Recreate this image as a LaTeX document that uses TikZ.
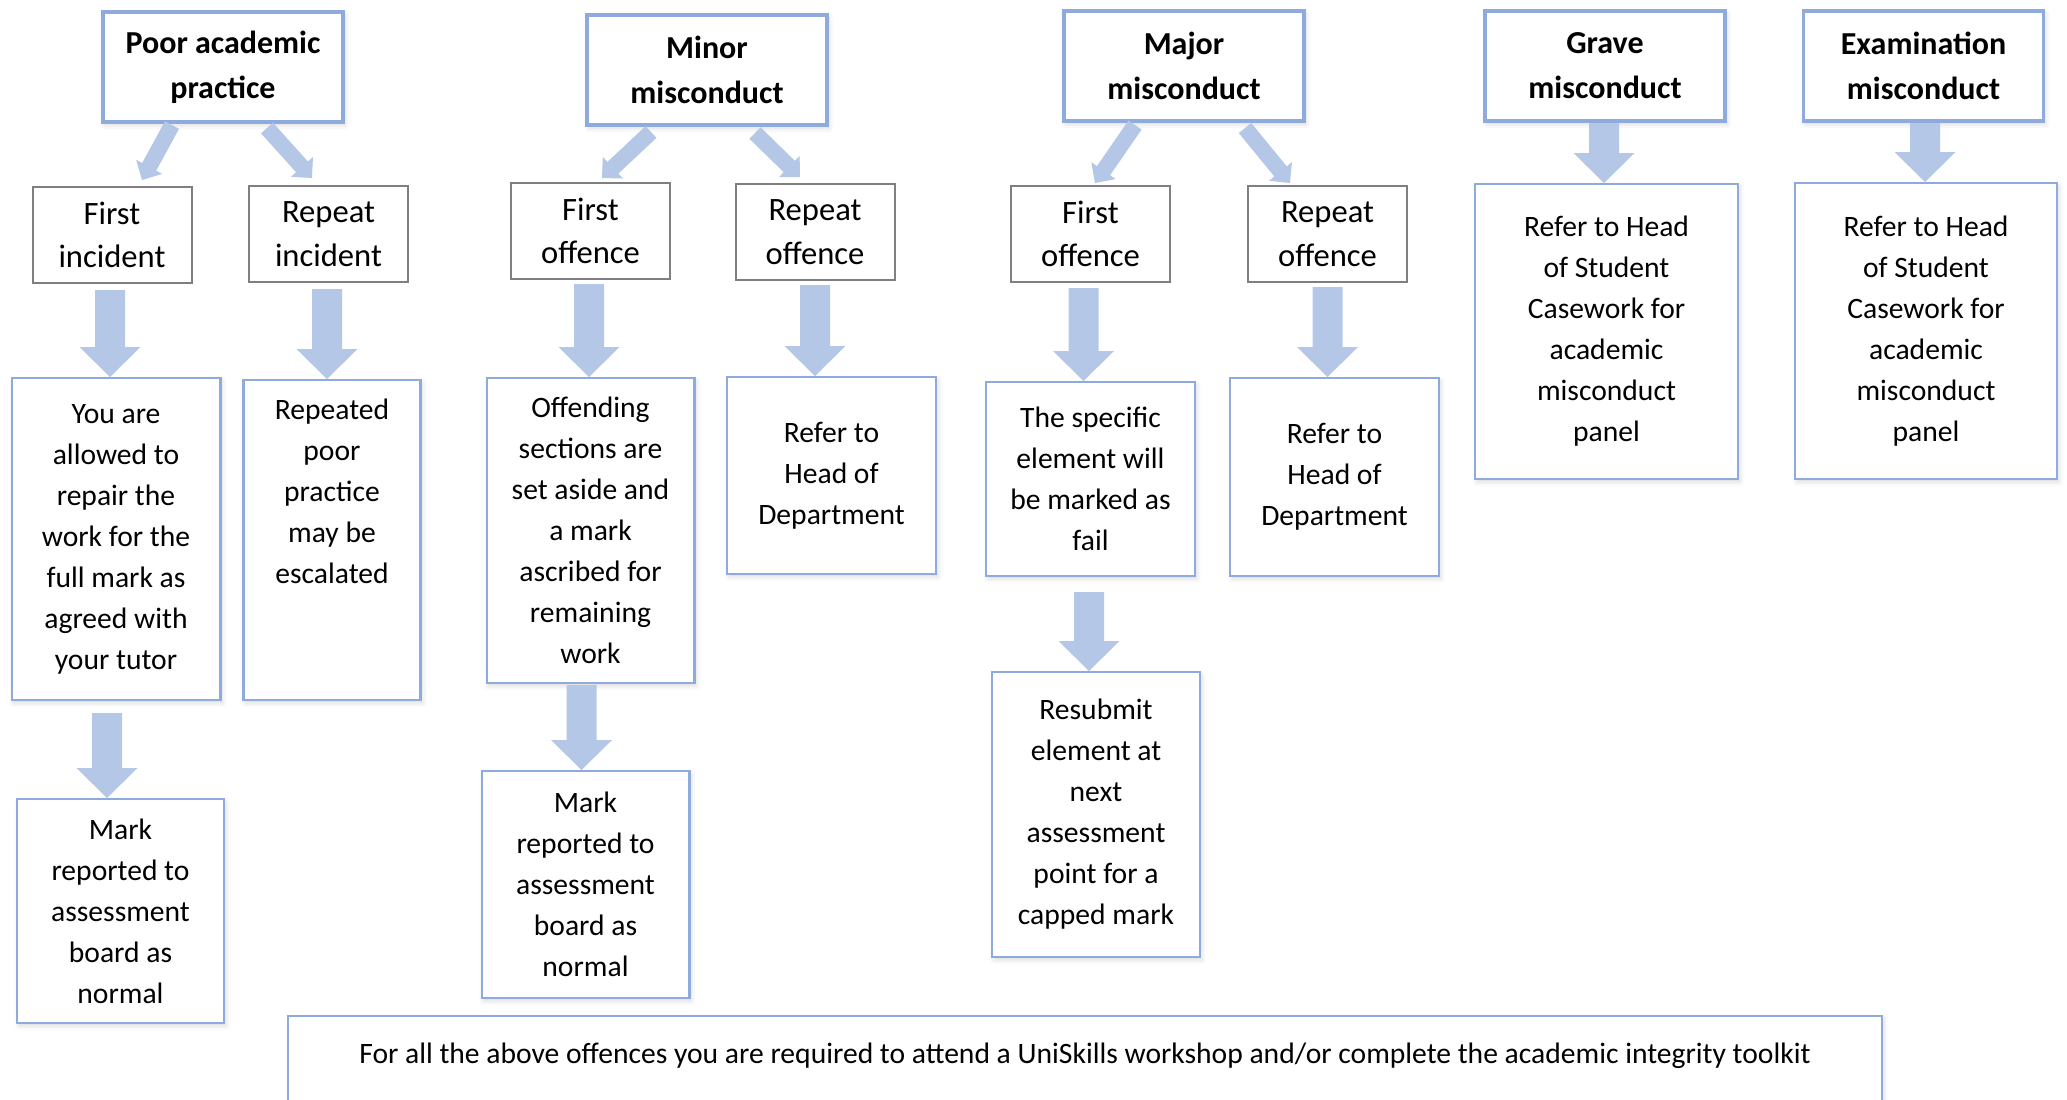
\documentclass[tikz,border=0pt]{standalone}
\usepackage{fontspec}
\setmainfont{Carlito}
\usepackage{tikz}
\usepackage{xcolor}
\usetikzlibrary{positioning, calc, shadows.blur}

\definecolor{boxblue}{HTML}{8FAADC}
\definecolor{arrowblue}{HTML}{B4C7E7}
\definecolor{boxgrey}{HTML}{7F7F7F}

\begin{document}
\begin{tikzpicture}
[x=0.5pt, y=-0.5pt,
head-box/.style={rectangle, draw=boxblue, line width=1.8pt, fill=white, align=center, minimum width=120pt, minimum height=55.2pt, font=\fontsize{16}{22.5}\selectfont\bfseries, soft-shadow},
step-box/.style={rectangle, draw=boxgrey, line width=1pt, fill=white, align=center, minimum width=79.5pt, minimum height=48pt, font=\fontsize{16.3}{21.75}\selectfont},
out-box/.style={rectangle, draw=boxblue, line width=1.2pt, fill=white, align=center, minimum width=104.3pt, font=\fontsize{14.8}{20.5}\selectfont, soft-shadow},
text-a/.style={inner sep=0pt, align=center, font=\fontsize{14.8}{20.5}\selectfont},
soft-shadow/.style={blur shadow={shadow xshift=1pt, shadow yshift=-1.5pt, shadow opacity=15, shadow blur radius=2.5pt}},
block-arrow/.style n args={3}{fill=arrowblue, to path={
  ($(\tikztostart)!#1!90:(\tikztotarget)$)
  -- ($(\tikztotarget)!#3!(\tikztostart)!#1!-90:(\tikztostart)$)
  -- ($(\tikztotarget)!#3!(\tikztostart)!#2!-90:(\tikztostart)$)
  -- (\tikztotarget)
  -- ($(\tikztotarget)!#3!(\tikztostart)!#2!90:(\tikztostart)$)
  -- ($(\tikztotarget)!#3!(\tikztostart)!#1!90:(\tikztostart)$)
  -- ($(\tikztostart)!#1!-90:(\tikztotarget)$) -- cycle}},
fat-arrow/.style={block-arrow={7.5pt}{15.25pt}{15pt}},
thin-arrow/.style={block-arrow={4pt}{7.4pt}{7.5pt}},]
\useasboundingbox (0,0) rectangle (2067,1099);
\node (pap)   [head-box] at (223,67)    {Poor academic\\practice};
\node (minor) [head-box] at (707,70)    {Minor\\misconduct};
\node (major) [head-box] at (1184,66)   {Major\\misconduct};
\node (grave) [head-box] at (1605,66)   {Grave\\misconduct};
\node (exam)  [head-box] at (1923.5,66) {Examination\\misconduct};
\node (pap-first)    [step-box, below = 31pt of pap, xshift=-55.5pt]   {First\\incident};
\node (pap-repeat)   [step-box, below = 30.5pt of pap, xshift=52.75pt] {Repeat\\incident};
\node (minor-first)  [step-box, below = 27.5pt of minor, xshift=-58.25pt] {First\\offence};
\node (minor-repeat) [step-box, below = 28pt of minor, xshift=54pt]    {Repeat\\offence};
\node (major-first)  [step-box, below = 31pt of major, xshift=-46.75pt] {First\\offence};
\node (major-repeat) [step-box, below = 31pt of major, xshift=71.75pt]  {Repeat\\offence};
\node (pap-first-out)   [out-box, minimum height=160.8pt, below = 46.5pt of pap-first, xshift=2pt] {You are\\allowed to\\repair the\\work for the\\full mark as\\agreed with\\your tutor};
\node (pap-rep-out)     [out-box, minimum width=88.5pt, minimum height=159.8pt, below = 48pt of pap-repeat, xshift=1.75pt] {};
\node (pap-rep-txt)     [text-a, below = 10pt of pap-rep-out.north] {Repeated\\poor\\practice\\may be\\escalated};
\node (minor-first-out) [out-box, minimum width=103.8pt, minimum height=152.3pt, below = 48.5pt of minor-first] {Offending\\sections are\\set aside and\\a mark\\ascribed for\\remaining\\work};
\node (minor-rep-out)   [out-box, minimum height=98.3pt, below = 47.5pt of minor-repeat, xshift=8.25pt] {Refer to\\Head of\\Department};
\node (major-first-out) [out-box, minimum height=96.8pt, below = 49pt of major-first] {The specific\\element will\\be marked as\\fail};
\node (major-rep-out)   [out-box, minimum height=98.8pt, below = 47pt of major-repeat, xshift=3.5pt] {Refer to\\Head of\\Department};
\node (grave-out) [out-box, minimum width=131.3pt, minimum height=147.3pt, below = 30pt of grave, xshift=0.75pt] {Refer to Head\\of Student\\Casework for\\academic\\misconduct\\panel};
\node (exam-out)  [out-box, minimum width=130.8pt, minimum height=147.8pt, below = 29.5pt of exam, xshift=1.25pt] {Refer to Head\\of Student\\Casework for\\academic\\misconduct\\panel};
\node (pap-mark)       [out-box, minimum width=103.3pt, minimum height=111.8pt, below = 48.5pt of pap-first-out, xshift=2.25pt] {Mark\\reported to\\assessment\\board as\\normal};
\node (minor-mark)     [out-box, minimum width=103.8pt, minimum height=113.3pt, below = 43pt of minor-first-out, xshift=-2.5pt] {Mark\\reported to\\assessment\\board as\\normal};
\node (major-resubmit) [out-box, minimum width=103.8pt, minimum height=142.3pt, below = 47pt of major-first-out, xshift=2.75pt] {Resubmit\\element at\\next\\assessment\\point for a\\capped mark};
\node (footer) [out-box, anchor=base, minimum width=796.8pt, inner ysep=0pt, text height=23.5pt, text depth=33.5pt] at (1085,1063) {For all the above offences you are required to attend a UniSkills workshop and/or complete the academic integrity toolkit};
\path [thin-arrow] ($(pap.south)+(-25.5pt,-0.5pt)$) to ($(pap-first.north)+(15pt,3pt)$);
\path [thin-arrow] ($(pap.south)+(22pt,-2pt)$) to ($(pap-repeat.north)+(-8.25pt,3.5pt)$);
\path [thin-arrow] ($(minor.south)+(-28pt,-2.5pt)$) to ($(minor-first.north)+(5.75pt,2pt)$);
\path [thin-arrow] ($(minor.south)+(24pt,-3pt)$) to ($(minor-repeat.north)+(-7.5pt,3pt)$);
\path [thin-arrow] ($(major.south)+(-24.5pt,-1pt)$) to ($(major-first.north)+(2.25pt,1pt)$);
\path [thin-arrow] ($(major.south)+(30.5pt,-2.5pt)$) to ($(major-repeat.north)+(-18.75pt,1pt)$);
\path [fat-arrow] ($(pap-first.south)+(-1pt,-3pt)$) to ($(pap-first.south |- pap-first-out.north)+(-1pt,0pt)$);
\path [fat-arrow] ($(pap-repeat.south)+(-0.75pt,-3pt)$) to ($(pap-repeat.south |- pap-rep-out.north)+(-0.75pt,0pt)$);
\path [fat-arrow] ($(minor-first.south)+(-0.75pt,-2pt)$) to ($(minor-first.south |- minor-first-out.north)+(-0.75pt,0pt)$);
\path [fat-arrow] ($(minor-repeat.south)+(0pt,-2pt)$) to (minor-repeat.south |- minor-rep-out.north);
\path [fat-arrow] ($(major-first.south)+(-3.5pt,-2.5pt)$) to ($(major-first.south |- major-first-out.north)+(-3.5pt,0pt)$);
\path [fat-arrow] ($(major-repeat.south)+(0pt,-2pt)$) to (major-repeat.south |- major-rep-out.north);
\path [fat-arrow] ($(grave.south)+(-0.5pt,0pt)$) to ($(grave.south |- grave-out.north)+(-0.5pt,0pt)$);
\path [fat-arrow] ($(exam.south)+(0.75pt,0pt)$) to ($(exam.south |- exam-out.north)+(0.75pt,0pt)$);
\path [fat-arrow] ($(pap-first-out.south)+(-4.5pt,-6pt)$) to ($(pap-first-out.south |- pap-mark.north)+(-4.5pt,0pt)$);
\path [fat-arrow] ($(minor-first-out.south)+(-4.5pt,-0.5pt)$) to ($(minor-first-out.south |- minor-mark.north)+(-4.5pt,0pt)$);
\path [fat-arrow] ($(major-first-out.south)+(-0.75pt,-7.5pt)$) to ($(major-first-out.south |- major-resubmit.north)+(-0.75pt,0pt)$);
\end{tikzpicture}
\end{document}
